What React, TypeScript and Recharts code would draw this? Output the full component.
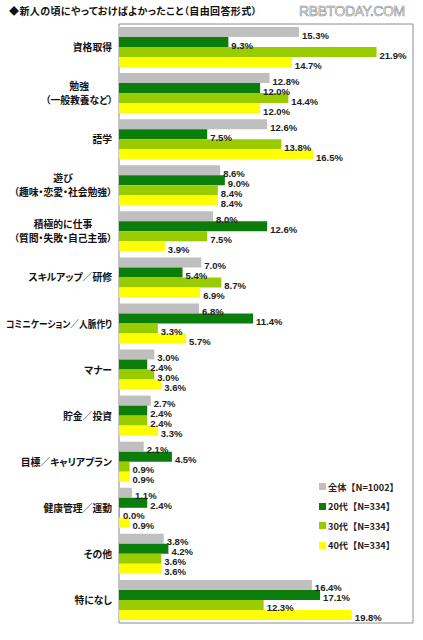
import React from 'react';
import { BarChart, Bar, XAxis, YAxis, ReferenceArea, LabelList } from 'recharts';

const categories: string[] = [
  '資格取得',
  '勉強\n（一般教養など）',
  '語学',
  '遊び\n（趣味・恋愛・社会勉強）',
  '積極的に仕事\n（質問・失敗・自己主張）',
  'スキルアップ／研修',
  'コミニケーション／人脈作り',
  'マナー',
  '貯金／投資',
  '目標／キャリアプラン',
  '健康管理／運動',
  'その他',
  '特になし',
];

const total = [15.3, 12.8, 12.6, 8.6, 8.0, 7.0, 6.8, 3.0, 2.7, 2.1, 1.1, 3.8, 16.4];
const age20 = [9.3, 12.0, 7.5, 9.0, 12.6, 5.4, 11.4, 2.4, 2.4, 4.5, 2.4, 4.2, 17.1];
const age30 = [21.9, 14.4, 13.8, 8.4, 7.5, 8.7, 3.3, 3.0, 2.4, 0.9, 0.0, 3.6, 12.3];
const age40 = [14.7, 12.0, 16.5, 8.4, 3.9, 6.9, 5.7, 3.6, 3.3, 0.9, 0.9, 3.6, 19.8];

const seriesNames = ['全体【N=1002】', '20代【N=334】', '30代【N=334】', '40代【N=334】'];
const seriesKeys = ['total', 'age20', 'age30', 'age40'];
const seriesColors = ['#BFBFBF', '#0A7D0A', '#99CC00', '#FFFF00'];

const data = categories.map((name, i) => ({
  name,
  total: total[i],
  age20: age20[i],
  age30: age30[i],
  age40: age40[i],
}));

const jpFont = '"Noto Sans CJK JP", sans-serif';
const numFont = '"Liberation Sans", Arial, sans-serif';
const palt = { fontFeatureSettings: '"palt"' };
const maxLabelWidth = 106;

// rough width of a label line with proportional (palt) glyphs
function lineWidth(s: string, size: number) {
  let w = 0;
  for (const ch of s) {
    if ('（）・'.includes(ch)) w += size * 0.5;
    else if (/[\u3040-\u30ff]/.test(ch)) w += size * 0.85;
    else w += size;
  }
  return w;
}

function CategoryTick(props: any) {
  const { x, y, payload } = props;
  const lines: string[] = String(payload.value).split('\n');
  const size = 9.8;
  const right = x + 1;
  if (lines.length === 1) {
    const w = lineWidth(lines[0], size);
    return (
      <text
        x={right}
        y={y}
        textAnchor="end"
        dominantBaseline="central"
        fontSize={size}
        fontWeight="bold"
        fontFamily={jpFont}
        fill="#111"
        style={palt}
        {...(w > maxLabelWidth ? { textLength: maxLabelWidth, lengthAdjust: 'spacingAndGlyphs' } : {})}
      >
        {lines[0]}
      </text>
    );
  }
  const maxW = Math.max(...lines.map((l) => lineWidth(l, size)));
  const cx = right - maxW / 2;
  return (
    <g>
      {lines.map((l, i) => (
        <text key={i} x={cx} y={y + (i - 0.5) * 14} textAnchor="middle" dominantBaseline="central" fontSize={size} fontWeight="bold" fontFamily={jpFont} fill="#111" style={palt}>
          {l}
        </text>
      ))}
    </g>
  );
}

function renderValue(props: any) {
  const { x, y, width, height, value } = props;
  return (
    <text x={x + width + 3} y={y + height / 2 + 3} dominantBaseline="central" fontSize={9.5} fontWeight="bold" fontFamily={numFont} fill="#222">
      {`${Number(value).toFixed(1)}%`}
    </text>
  );
}

export default function App() {
  return (
    <div style={{ position: 'absolute', left: 0, top: 0, width: 423, height: 640, background: '#fff', fontFamily: jpFont }}>
      <div style={{ position: 'absolute', left: 9, top: 3, fontSize: 10, letterSpacing: 0.4, fontWeight: 'bold', color: '#111', whiteSpace: 'nowrap', ...palt }}>
        ◆新人の頃にやっておけばよかったこと（自由回答形式）
      </div>
      <div
        style={{
          position: 'absolute',
          left: 299,
          top: 3,
          fontSize: 14,
          fontFamily: numFont,
          color: '#fff',
          WebkitTextStroke: '0.6px #8a8a8a',
          letterSpacing: -0.4,
          whiteSpace: 'nowrap',
        }}
      >
        RBBTODAY.COM
      </div>
      <BarChart
        width={423}
        height={640}
        data={data}
        layout="vertical"
        margin={{ top: 24, right: 10, bottom: 17, left: 0 }}
        barGap={0}
        barCategoryGap={3}
        style={{ position: 'absolute', left: 0, top: 0 }}
      >
        <XAxis type="number" domain={[0, 25]} hide />
        <YAxis type="category" dataKey="name" width={119} tickLine={false} axisLine={false} tick={<CategoryTick />} interval={0} />
        {seriesKeys.map((k, i) => (
          <Bar key={k} dataKey={k} fill={seriesColors[i]} minPointSize={1} isAnimationActive={false}>
            <LabelList dataKey={k} content={renderValue} />
          </Bar>
        ))}
        <ReferenceArea x1={0} x2={25} fill="none" stroke="#8c8c8c" strokeWidth={1} ifOverflow="visible" />
      </BarChart>
      <div style={{ position: 'absolute', left: 319, top: 477 }}>
        {seriesNames.map((n, i) => (
          <div key={n} style={{ display: 'flex', alignItems: 'center', height: 19.5, fontSize: 9.2, fontWeight: 'bold', color: '#222', whiteSpace: 'nowrap' }}>
            <span style={{ display: 'inline-block', width: 7, height: 7, background: seriesColors[i], marginRight: 2 }} />
            {n}
          </div>
        ))}
      </div>
    </div>
  );
}
